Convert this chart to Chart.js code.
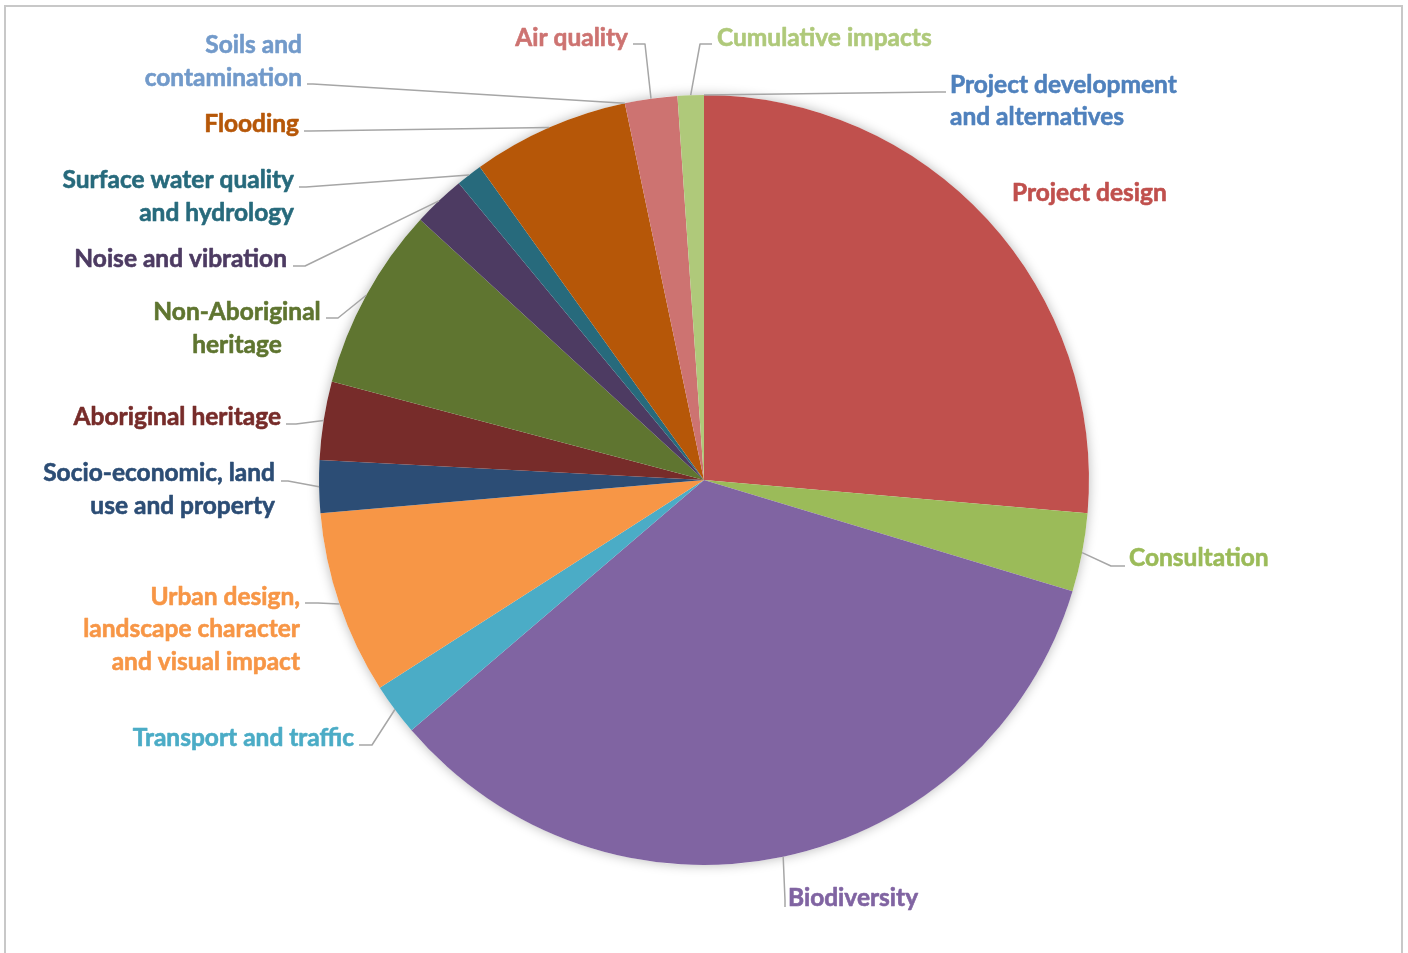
<!DOCTYPE html>
<html>
<head>
<meta charset="utf-8">
<style>
  html, body { margin: 0; padding: 0; background: #ffffff; }
  #wrap { position: relative; width: 1408px; height: 953px; }
</style>
<script src="https://cdn.jsdelivr.net/npm/chart.js@4/dist/chart.umd.min.js"></script>
</head>
<body>
<div id="wrap"><canvas id="c" width="1408" height="953"></canvas></div>
<script>
// ---- DATA ----
const categories = [
  'Project development and alternatives',
  'Project design',
  'Consultation',
  'Biodiversity',
  'Transport and traffic',
  'Urban design, landscape character and visual impact',
  'Socio-economic, land use and property',
  'Aboriginal heritage',
  'Non-Aboriginal heritage',
  'Noise and vibration',
  'Surface water quality and hydrology',
  'Flooding',
  'Soils and contamination',
  'Air quality',
  'Cumulative impacts'
];
const counts = [0, 24, 3, 31, 2, 7, 2, 3, 7, 2, 1, 6, 0, 2, 1];
const sliceColors = [
  '#4F81BD', '#C0504D', '#9BBB59', '#8064A2', '#4BACC6', '#F79646',
  '#2C4D75', '#772C2A', '#5F7530', '#4D3B62', '#276A7C', '#B65708',
  '#729ACA', '#CD7371', '#AFC97A'
];
const labelLines = [
  ['Project development', 'and alternatives'],
  ['Project design'],
  ['Consultation'],
  ['Biodiversity'],
  ['Transport and traffic'],
  ['Urban design,', 'landscape character', 'and visual impact'],
  ['Socio-economic, land', 'use and property'],
  ['Aboriginal heritage'],
  ['Non-Aboriginal', 'heritage'],
  ['Noise and vibration'],
  ['Surface water quality', 'and hydrology'],
  ['Flooding'],
  ['Soils and', 'contamination'],
  ['Air quality'],
  ['Cumulative impacts']
];

// ---- LABEL LAYOUT (positions of text and leader-line starts) ----
const labelLayout = [
  { align: 'left',   x: 950,  ys: [84, 116],       lead: [[946, 92], [938, 92]] },
  { align: 'left',   x: 1012, ys: [192],           lead: null },
  { align: 'left',   x: 1129, ys: [557],           lead: [[1125, 566], [1111, 566]] },
  { align: 'left',   x: 788,  ys: [897],           lead: [[785, 907], [785, 900]] },
  { align: 'right',  x: 354,  ys: [737],           lead: [[359, 745], [372, 745]] },
  { align: 'right',  x: 300,  ys: [596, 628, 661], lead: [[305, 603], [318, 603]] },
  { align: 'right',  x: 275,  ys: [472, 505],      lead: [[281, 481], [288, 481]] },
  { align: 'right',  x: 281,  ys: [416],           lead: [[286, 424], [296, 424]] },
  { align: 'center', x: 237,  ys: [311, 344],      lead: [[326, 318], [338, 318]] },
  { align: 'right',  x: 287,  ys: [258],           lead: [[293, 266], [305, 266]] },
  { align: 'right',  x: 294,  ys: [179, 212],      lead: [[299, 187], [306, 187]] },
  { align: 'right',  x: 299,  ys: [123],           lead: [[304, 131], [310, 131]] },
  { align: 'right',  x: 302,  ys: [44, 77],        lead: [[307, 84], [313, 84]] },
  { align: 'right',  x: 628,  ys: [37],            lead: [[633, 44], [645, 44]] },
  { align: 'left',   x: 717,  ys: [37],            lead: [[712, 44], [700, 44]] }
];

const FONT = 'bold 24.5px Lato, "Open Sans", sans-serif';

const framePlugin = {
  id: 'frame',
  beforeDraw(chart) {
    const ctx = chart.ctx;
    ctx.save();
    ctx.fillStyle = '#ffffff';
    ctx.fillRect(0, 0, chart.width, chart.height);
    ctx.strokeStyle = '#C8C8C8';
    ctx.lineWidth = 2;
    ctx.strokeRect(5, 6, 1397, 1000);
    ctx.restore();
  }
};

const shadowPlugin = {
  id: 'pieShadow',
  beforeDatasetsDraw(chart) {
    const meta = chart.getDatasetMeta(0);
    const arc = meta.data.find(a => a);
    if (!arc) return;
    const ctx = chart.ctx;
    ctx.save();
    ctx.shadowColor = 'rgba(0,0,0,0.28)';
    ctx.shadowBlur = 12;
    ctx.shadowOffsetX = 0;
    ctx.shadowOffsetY = 0;
    ctx.fillStyle = '#ffffff';
    ctx.beginPath();
    ctx.arc(arc.x, arc.y, arc.outerRadius, 0, Math.PI * 2);
    ctx.fill();
    ctx.restore();
  }
};

const labelPlugin = {
  id: 'outLabels',
  afterDatasetsDraw(chart) {
    const ctx = chart.ctx;
    const meta = chart.getDatasetMeta(0);
    ctx.save();
    meta.data.forEach((arc, i) => {
      const lay = labelLayout[i];
      if (!lay) return;
      const mid = (arc.startAngle + arc.endAngle) / 2;
      const px = arc.x + Math.cos(mid) * arc.outerRadius;
      const py = arc.y + Math.sin(mid) * arc.outerRadius;
      if (lay.lead) {
        ctx.strokeStyle = '#A6A6A6';
        ctx.lineWidth = 1.5;
        ctx.beginPath();
        ctx.moveTo(lay.lead[0][0], lay.lead[0][1]);
        ctx.lineTo(lay.lead[1][0], lay.lead[1][1]);
        ctx.lineTo(px, py);
        ctx.stroke();
      }
      ctx.font = FONT;
      ctx.fillStyle = sliceColors[i];
      ctx.strokeStyle = sliceColors[i];
      ctx.lineWidth = 0.6;
      ctx.lineJoin = 'round';
      ctx.textAlign = lay.align;
      ctx.textBaseline = 'middle';
      labelLines[i].forEach((t, k) => {
        ctx.fillText(t, lay.x, lay.ys[k] + 1);
        ctx.strokeText(t, lay.x, lay.ys[k] + 1);
      });
    });
    ctx.restore();
  }
};

new Chart(document.getElementById('c'), {
  type: 'pie',
  data: {
    labels: categories,
    datasets: [{
      data: counts,
      backgroundColor: sliceColors,
      borderWidth: 0,
      borderColor: 'rgba(0,0,0,0)'
    }]
  },
  options: {
    responsive: false,
    animation: false,
    layout: { padding: { top: 95, bottom: 88, left: 0, right: 0 } },
    plugins: {
      legend: { display: false },
      tooltip: { enabled: false }
    }
  },
  plugins: [framePlugin, shadowPlugin, labelPlugin]
});
</script>
</body>
</html>
